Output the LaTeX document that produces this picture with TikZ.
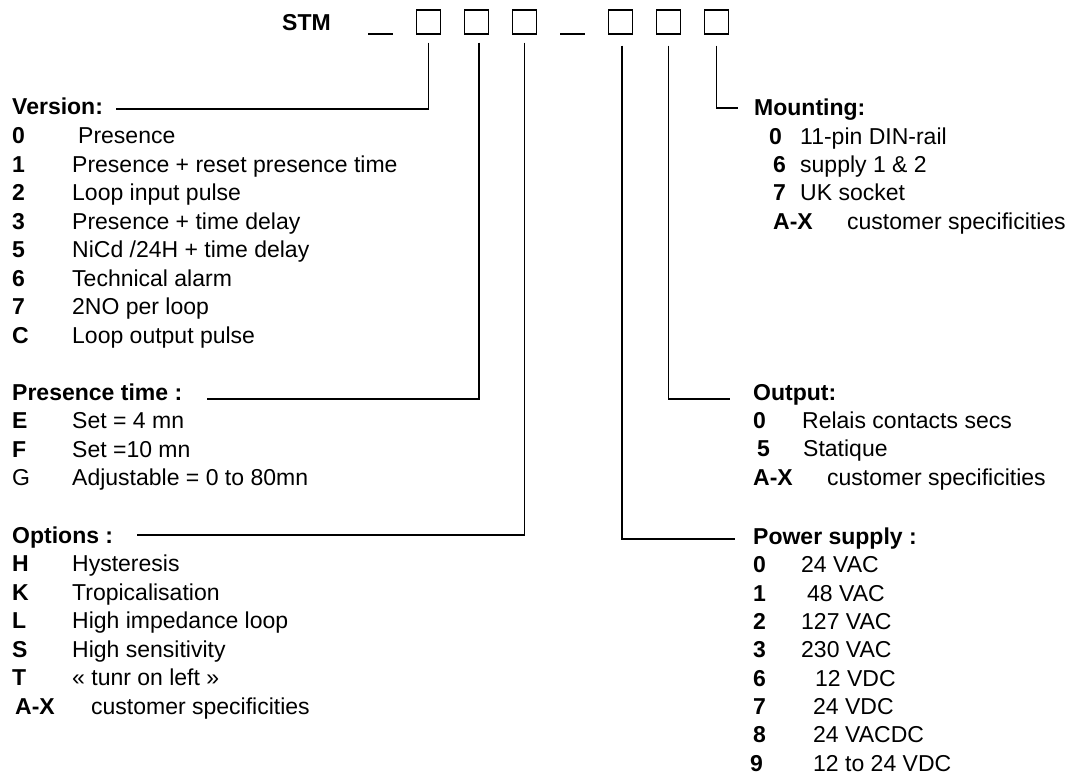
\documentclass[tikz,border=0pt]{standalone}
\usepackage{fontspec}
\setmainfont{Liberation Sans}
\usepackage{tikz}
\usetikzlibrary{positioning, calc}

\begin{document}
\begin{tikzpicture}[
  x=1pt, y=-1pt,
  every node/.style={font=\fontsize{23}{28}\selectfont},
  code/.style={anchor=base west, inner sep=0pt, font=\fontsize{23}{28}\selectfont\bfseries},
  desc/.style={anchor=base west, inner sep=0pt},
  head/.style={anchor=base west, inner sep=0pt, font=\fontsize{23}{28}\selectfont\bfseries},
  digbox/.style={draw, line width=1.2pt, minimum size=24pt, inner sep=0pt},
  wire/.style={line width=1.5pt}
]
\useasboundingbox (0,0) rectangle (1077,774);

% reference code
\node[head] (stm) at (282,30) {STM};
\draw[line width=1.4pt] (368,34) -- (393,34);
\node[digbox] (b1) at (428.5,22) {};
\node[digbox] (b2) at (476.5,22) {};
\node[digbox] (b3) at (524.5,22) {};
\draw[line width=1.4pt] (560,34) -- (585,34);
\node[digbox] (b4) at (620.5,22) {};
\node[digbox] (b5) at (668.5,22) {};
\node[digbox] (b6) at (716.5,22) {};

% left column
\node[head] (ver) at (12,114) {Version:};
\node[code] (v0k) at (12,143) {0}; \node[desc] (v0) at (78,143) {Presence};
\node[code] (v1k) at (12,172) {1}; \node[desc] (v1) at (72,172) {Presence + reset presence time};
\node[code] (v2k) at (12,200) {2}; \node[desc] (v2) at (72,200) {Loop input pulse};
\node[code] (v3k) at (12,229) {3}; \node[desc] (v3) at (72,229) {Presence + time delay};
\node[code] (v5k) at (12,257) {5}; \node[desc] (v5) at (72,257) {NiCd /24H + time delay};
\node[code] (v6k) at (12,286) {6}; \node[desc] (v6) at (72,286) {Technical alarm};
\node[code] (v7k) at (12,314) {7}; \node[desc] (v7) at (72,314) {2NO per loop};
\node[code] (vCk) at (12,343) {C}; \node[desc] (vC) at (72,343) {Loop output pulse};

\node[head] (pres) at (12,400) {Presence time :};
\node[code] (pEk) at (12,428) {E}; \node[desc] (pE) at (72,428) {Set = 4 mn};
\node[code] (pFk) at (12,457) {F}; \node[desc] (pF) at (72,457) {Set =10 mn};
\node[desc] (pGk) at (12,485) {G}; \node[desc] (pG) at (72,485) {Adjustable = 0 to 80mn};

\node[head] (opt) at (12,543) {Options :};
\node[code] (oHk) at (12,571) {H}; \node[desc] (oH) at (72,571) {Hysteresis};
\node[code] (oKk) at (12,600) {K}; \node[desc] (oK) at (72,600) {Tropicalisation};
\node[code] (oLk) at (12,628) {L}; \node[desc] (oL) at (72,628) {High impedance loop};
\node[code] (oSk) at (12,657) {S}; \node[desc] (oS) at (72,657) {High sensitivity};
\node[code] (oTk) at (12,685) {T}; \node[desc] (oT) at (72,685) {« tunr on left »};
\node[code] (oXk) at (15,714) {A-X}; \node[desc] (oX) at (91,714) {customer specificities};

% right column
\node[head] (mnt) at (754,115) {Mounting:};
\node[code] (m0k) at (769,144) {0}; \node[desc] (m0) at (800,144) {11-pin DIN-rail};
\node[code] (m6k) at (773,172) {6}; \node[desc] (m6) at (800,172) {supply 1 \& 2};
\node[code] (m7k) at (773,200) {7}; \node[desc] (m7) at (800,200) {UK socket};
\node[code] (mXk) at (773,229) {A-X}; \node[desc] (mX) at (847,229) {customer specificities};

\node[head] (out) at (753,400) {Output:};
\node[code] (u0k) at (753,428) {0}; \node[desc] (u0) at (802,428) {Relais contacts secs};
\node[code] (u5k) at (757,456) {5}; \node[desc] (u5) at (803,456) {Statique};
\node[code] (uXk) at (753,485) {A-X}; \node[desc] (uX) at (827,485) {customer specificities};

\node[head] (pwr) at (753,544) {Power supply :};
\node[code] (s0k) at (753,572) {0}; \node[desc] (s0) at (801,572) {24 VAC};
\node[code] (s1k) at (753,601) {1}; \node[desc] (s1) at (807,601) {48 VAC};
\node[code] (s2k) at (753,629) {2}; \node[desc] (s2) at (801,629) {127 VAC};
\node[code] (s3k) at (753,657) {3}; \node[desc] (s3) at (801,657) {230 VAC};
\node[code] (s6k) at (753,686) {6}; \node[desc] (s6) at (815,686) {12 VDC};
\node[code] (s7k) at (753,714) {7}; \node[desc] (s7) at (813,714) {24 VDC};
\node[code] (s8k) at (753,742) {8}; \node[desc] (s8) at (813,742) {24 VACDC};
\node[code] (s9k) at (750,771) {9}; \node[desc] (s9) at (813,771) {12 to 24 VDC};

% free ends of the leaders
\coordinate (verend) at (116,109);
\coordinate (presend) at (207,399);
\coordinate (optend) at (137,535);
\coordinate (mntend) at (738,108);
\coordinate (outend) at (730,399);
\coordinate (pwrend) at (735,539);

% leaders
\draw[wire] ([yshift=-8]b1.south) |- (verend);
\draw[wire] ([yshift=-8]b2.south) ++(2.5,0) |- (presend);
\draw[wire] ([yshift=-8]b3.south) |- (optend);
\draw[wire] ([yshift=-11]b4.south) ++(1.5,0) |- (pwrend);
\draw[wire] ([yshift=-11]b5.south) |- (outend);
\draw[wire] ([yshift=-11]b6.south) |- (mntend);

\end{tikzpicture}
\end{document}
